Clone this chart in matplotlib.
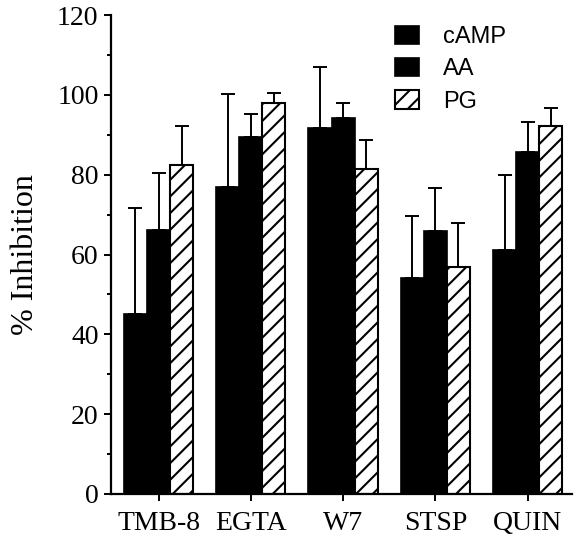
import matplotlib
matplotlib.use("Agg")
import matplotlib.pyplot as plt
import numpy as np

categories = ["TMB-8", "EGTA", "W7", "STSP", "QUIN"]
series = ["cAMP", "AA", "PG"]
camp = [45, 77, 91.7, 54.1, 61.2]
camp_err = [26.7, 23.2, 15.4, 15.5, 18.8]
aa = [66.2, 89.5, 94.1, 65.9, 85.8]
aa_err = [14.2, 5.8, 3.9, 10.8, 7.4]
pg = [82.5, 98.0, 81.5, 57.0, 92.2]
pg_err = [9.7, 2.5, 7.1, 10.8, 4.4]
yticks = [0, 20, 40, 60, 80, 100, 120]

plt.rcParams['hatch.linewidth'] = 1.5
fig = plt.figure(figsize=(5.74, 5.39), dpi=100)
ax = fig.add_axes([0.1934, 0.0835, 0.803, 0.8885])

x = np.arange(len(categories))
w = 0.25
vals = [camp, aa, pg]
errs = [camp_err, aa_err, pg_err]
handles = []
for i, (v, e) in enumerate(zip(vals, errs)):
    pos = x + (i - 1) * w
    if i < 2:
        b = ax.bar(pos, v, w, color='black', edgecolor='black', linewidth=1.2, label=series[i], zorder=2)
    else:
        b = ax.bar(pos, v, w, color='white', edgecolor='black', hatch='//', linewidth=1.5, label=series[i], zorder=2)
    ax.errorbar(pos, v, yerr=[np.zeros(len(v)), e], fmt='none', ecolor='black',
                elinewidth=1.4, capsize=5, capthick=1.4, zorder=1)
    handles.append(b)

ax.set_xlim(-0.515, 4.48)
ax.set_ylim(0, 120)
ax.set_yticks(yticks)
ax.set_yticks(np.arange(10, 120, 20), minor=True)
ax.set_xticks(x)
ax.set_xticklabels(categories)
for s in ['top', 'right']:
    ax.spines[s].set_visible(False)
for s in ['left', 'bottom']:
    ax.spines[s].set_linewidth(1.6)
ax.tick_params(axis='both', which='major', direction='out', length=5, width=1.4,
               labelsize=20)
ax.tick_params(axis='y', which='major', pad=4)
ax.tick_params(axis='x', which='major', pad=7)
ax.tick_params(axis='y', which='minor', direction='out', length=3, width=1.4)
for lab in ax.get_xticklabels() + ax.get_yticklabels():
    lab.set_fontfamily('Liberation Serif')
ax.set_ylabel('% Inhibition', fontsize=23, fontfamily='Liberation Serif')
ax.yaxis.set_label_coords(-0.186, 0.5)
ax.yaxis.label.set_va('center')

fs = 17
fpx = fs * 100 / 72
leg = fig.legend(handles=handles, loc='upper left',
                 bbox_to_anchor=(395 / 574, 1 - 26 / 539), bbox_transform=fig.transFigure,
                 frameon=False, handlelength=24 / fpx, handleheight=19 / fpx,
                 handletextpad=24 / fpx, labelspacing=0.42,
                 prop={'family': 'Liberation Sans', 'size': fs},
                 borderaxespad=0, borderpad=0)

fig.savefig('out.png', dpi=100)
